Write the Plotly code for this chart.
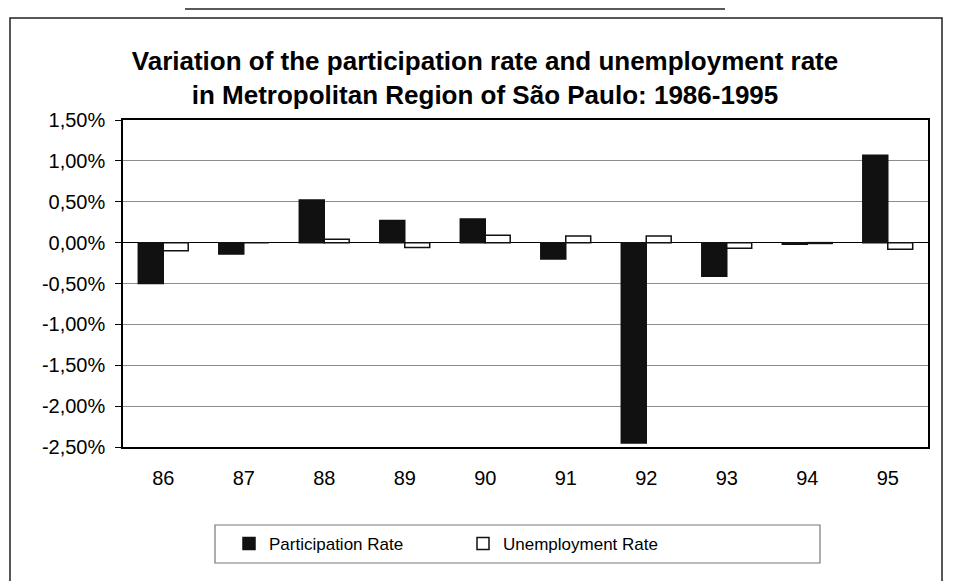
import plotly.graph_objects as go

years = ["86", "87", "88", "89", "90", "91", "92", "93", "94", "95"]
participation = [-0.50, -0.14, 0.52, 0.27, 0.29, -0.20, -2.45, -0.41, -0.02, 1.07]
unemployment = [-0.10, 0.0, 0.04, -0.06, 0.09, 0.08, 0.08, -0.07, -0.01, -0.08]

tick_vals = [1.5, 1.0, 0.5, 0.0, -0.5, -1.0, -1.5, -2.0, -2.5]
tick_text = ["1,50%", "1,00%", "0,50%", "0,00%", "-0,50%", "-1,00%", "-1,50%", "-2,00%", "-2,50%"]

OFF = 8  # the page body adds an 8px margin, so work in page pixels minus this
W, H = 953 - OFF, 581 - OFF
L, R, T, B = 123, 928, 120, 447  # plot area in page pixels


def px_x(x):
    return (x - L) / (R - L)


def px_y(y):
    return (B - y) / (B - T)


font = "Liberation Sans, Arial, sans-serif"

fig = go.Figure()
fig.add_trace(go.Bar(
    x=years, y=participation, name="Participation Rate",
    marker=dict(color="#111111", line=dict(color="#111111", width=1.5)),
))
fig.add_trace(go.Bar(
    x=years, y=unemployment, name="Unemployment Rate",
    marker=dict(color="white", line=dict(color="#111111", width=1.5)),
))

shapes = [
    # outer frame of the scanned chart
    dict(type="path", xref="paper", yref="paper",
         path=f"M {px_x(10)} {px_y(590)} L {px_x(10)} {px_y(18)} L {px_x(942)} {px_y(18)} L {px_x(942)} {px_y(590)}",
         line=dict(color="#222222", width=1.5)),
    # fragment of the page above
    dict(type="line", xref="paper", yref="paper",
         x0=px_x(185), x1=px_x(725), y0=px_y(9), y1=px_y(9),
         line=dict(color="#222222", width=1.5)),
    # legend box
    dict(type="rect", xref="paper", yref="paper",
         x0=px_x(215), x1=px_x(820), y0=px_y(525), y1=px_y(563),
         line=dict(color="#777777", width=1.2)),
]

fig.update_layout(
    width=W, height=H,
    margin=dict(l=L - OFF, r=953 - R, t=T - OFF, b=581 - B),
    paper_bgcolor="white", plot_bgcolor="white",
    font=dict(family=font, color="black", size=20),
    title=dict(
        text="<b>Variation of the participation rate and unemployment rate<br>in Metropolitan Region of São Paulo: 1986-1995</b>",
        x=(485 - OFF) / W, xanchor="center", y=1 - (70 - OFF) / H, yanchor="middle",
        font=dict(size=26, family=font, color="black"),
    ),
    barmode="group", bargap=0.38, bargroupgap=0.0,
    showlegend=True,
    legend=dict(
        orientation="h", x=px_x(229), xanchor="left", y=px_y(544), yanchor="middle",
        font=dict(size=17, family=font), entrywidth=189, itemwidth=30,
        bgcolor="rgba(0,0,0,0)", borderwidth=0,
    ),
    shapes=shapes,
)
fig.update_xaxes(
    showline=True, linecolor="black", linewidth=1.5, mirror=True,
    ticks="", ticklabelstandoff=12, tickfont=dict(size=20),
)
fig.update_yaxes(
    range=[-2.5, 1.5], tickvals=tick_vals, ticktext=tick_text,
    showline=True, linecolor="black", linewidth=1.5, mirror=True,
    ticks="outside", ticklen=6, tickcolor="black", ticklabelstandoff=6,
    showgrid=True, gridcolor="#8c8c8c", gridwidth=1,
    zeroline=True, zerolinecolor="black", zerolinewidth=1.2,
    tickfont=dict(size=20),
)

fig.write_html("out.html")
